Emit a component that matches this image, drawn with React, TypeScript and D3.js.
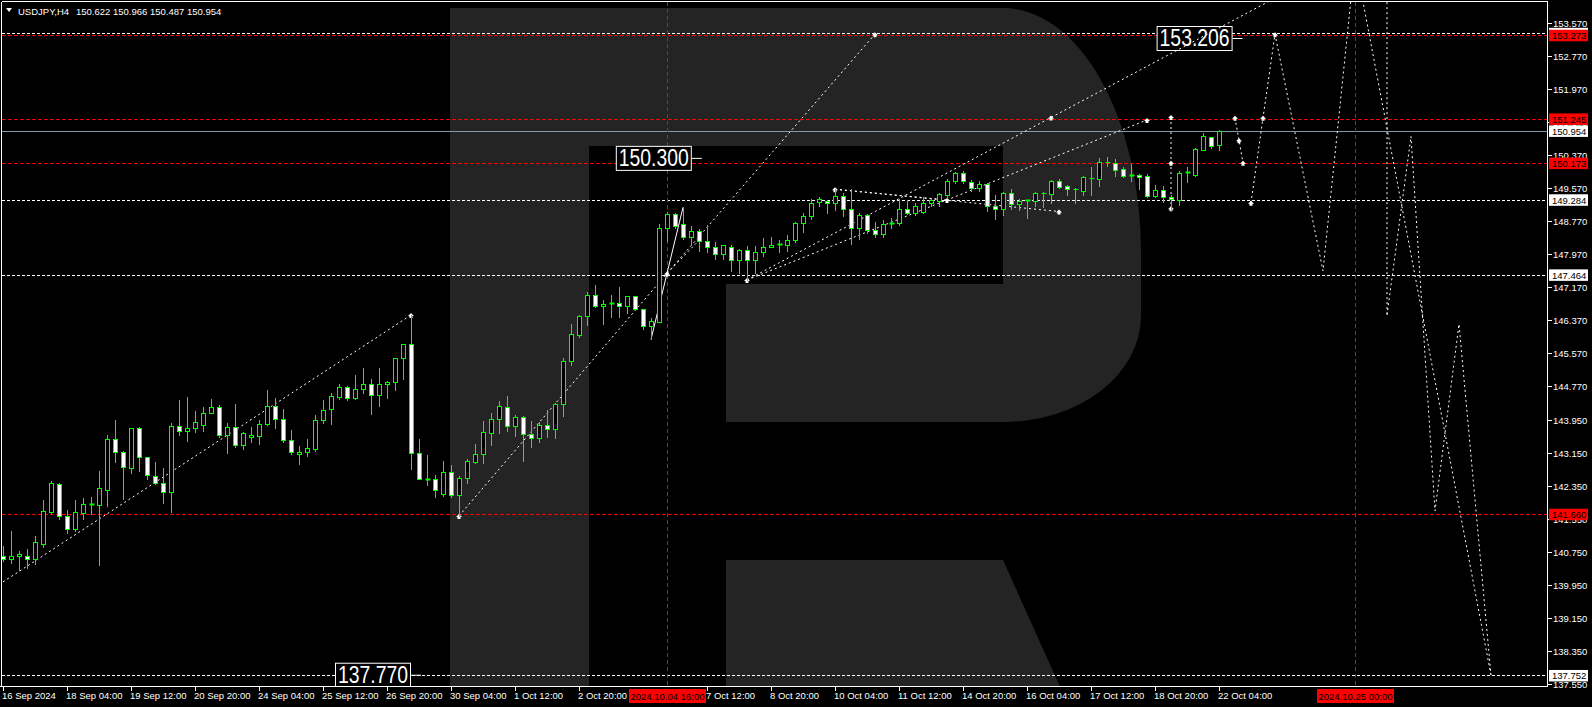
import * as d3 from 'd3'

const W = 1592
const H = 707
const PLOT_L = 2
const PLOT_T = 2
const PLOT_R = 1547
const PLOT_B = 686

// H4 bars, 16 Sep 20:00 .. 22 Oct 04:00
const opens = [
  140.65, 140.57, 140.66, 140.66, 140.57, 140.95, 141.72, 142.39, 141.63, 141.31,
  141.70, 141.92, 141.88, 142.26, 143.48, 143.16, 142.77, 143.74, 143.04, 142.58,
  142.41, 142.19, 143.79, 143.67, 143.74, 143.82, 144.12, 144.25, 143.57, 143.77,
  143.33, 143.54, 143.55, 143.84, 144.28, 143.96, 143.45, 143.13, 143.16, 143.25,
  143.94, 144.20, 144.51, 144.74, 144.49, 144.69, 144.81, 144.56, 144.83, 144.86,
  145.44, 145.78, 143.14, 142.49, 142.51, 142.16, 142.68, 142.12, 142.53, 142.93,
  143.11, 143.64, 143.96, 144.27, 143.79, 144.03, 143.61, 143.52, 143.82, 143.72,
  144.33, 145.37, 146.01, 146.46, 146.97, 146.70, 146.75, 146.77, 146.70, 146.94,
  146.63, 146.22, 146.33, 148.61, 148.94, 148.69, 148.39, 148.53, 148.29, 148.15,
  147.98, 148.15, 147.82, 148.06, 147.82, 148.03, 148.13, 148.18, 148.20, 148.32,
  148.71, 148.88, 149.22, 149.26, 149.20, 149.38, 149.05, 148.59, 148.91, 148.54,
  148.45, 148.70, 148.71, 149.05, 148.97, 148.98, 149.20, 149.26, 149.40, 149.73,
  149.93, 149.72, 149.56, 149.66, 149.14, 149.07, 149.44, 149.17, 149.26, 149.25,
  149.44, 149.43, 149.74, 149.61, 149.54, 149.50, 149.81, 149.80, 150.19, 150.18,
  150.02, 149.87, 149.89, 149.85, 149.38, 149.52, 149.36, 149.28, 149.93, 149.89,
  150.49, 150.80, 150.622
]
const highs = [
  140.89, 141.25, 140.77, 140.81, 141.13, 142.01, 142.47, 142.41, 141.76, 142.01,
  142.06, 142.09, 142.71, 143.58, 143.95, 143.19, 143.76, 143.77, 143.06, 142.93,
  142.79, 143.87, 144.43, 144.50, 144.16, 144.25, 144.45, 144.31, 143.87, 144.33,
  143.65, 143.78, 143.95, 144.67, 144.48, 144.21, 143.70, 143.31, 143.48, 144.06,
  144.43, 144.59, 144.83, 144.77, 145.04, 145.21, 144.95, 145.21, 144.90, 145.46,
  145.78, 146.49, 143.48, 143.10, 142.60, 142.95, 142.85, 142.59, 142.99, 143.36,
  143.92, 144.11, 144.41, 144.53, 144.07, 144.04, 143.92, 143.89, 144.19, 144.35,
  145.46, 146.27, 146.48, 147.05, 147.23, 146.85, 146.97, 147.16, 146.94, 146.96,
  146.63, 146.43, 148.69, 148.99, 148.97, 149.10, 148.65, 148.58, 148.68, 148.27,
  148.18, 148.18, 148.08, 148.16, 148.16, 148.36, 148.38, 148.31, 148.42, 148.74,
  148.96, 149.30, 149.36, 149.28, 149.54, 149.46, 149.54, 148.96, 148.93, 148.74,
  148.79, 148.85, 149.30, 149.28, 149.20, 149.36, 149.32, 149.46, 149.80, 149.96,
  149.97, 149.76, 149.73, 149.68, 149.40, 149.48, 149.54, 149.31, 149.28, 149.47,
  149.47, 149.76, 149.79, 149.65, 149.56, 149.86, 150.08, 150.30, 150.32, 150.27,
  150.09, 150.15, 149.92, 149.91, 149.64, 149.62, 149.40, 149.97, 150.09, 150.53,
  150.90, 150.81, 150.966
]
const lows = [
  140.53, 140.47, 140.32, 140.35, 140.45, 140.86, 141.70, 141.54, 141.21, 141.26,
  141.54, 141.67, 140.43, 141.86, 142.93, 142.03, 142.67, 142.71, 142.52, 142.39,
  141.94, 141.72, 143.57, 143.44, 143.66, 143.67, 144.12, 143.54, 143.15, 143.30,
  143.25, 143.40, 143.37, 143.83, 143.76, 143.42, 143.11, 142.89, 143.08, 143.19,
  143.88, 143.86, 144.46, 144.43, 144.45, 144.61, 144.10, 144.29, 144.49, 144.67,
  144.95, 142.76, 142.51, 142.38, 142.07, 142.10, 142.07, 141.62, 142.41, 142.91,
  142.91, 143.34, 143.64, 143.69, 143.56, 142.96, 143.30, 143.42, 143.54, 143.52,
  144.05, 145.29, 145.95, 146.26, 146.68, 146.27, 146.45, 146.45, 146.55, 146.61,
  146.14, 145.90, 146.33, 148.29, 148.61, 148.34, 148.20, 148.05, 148.01, 147.84,
  147.86, 147.56, 147.50, 147.34, 147.50, 147.91, 148.13, 148.01, 148.05, 148.25,
  148.50, 148.81, 149.13, 148.97, 149.04, 148.88, 148.21, 148.33, 148.49, 148.39,
  148.39, 148.59, 148.67, 148.93, 148.92, 148.96, 149.13, 149.13, 149.32, 149.68,
  149.68, 149.50, 149.49, 149.02, 148.82, 148.92, 149.07, 149.04, 148.85, 149.13,
  149.12, 149.20, 149.57, 149.40, 149.21, 149.40, 149.40, 149.62, 150.10, 149.86,
  149.84, 149.74, 149.55, 149.36, 149.36, 149.24, 149.04, 149.16, 149.72, 149.86,
  150.48, 150.55, 150.487
]
const closes = [
  140.57, 140.66, 140.70, 140.57, 140.98, 141.74, 142.41, 141.63, 141.31, 141.72,
  141.92, 141.88, 142.29, 143.48, 143.16, 142.80, 143.74, 143.04, 142.60, 142.41,
  142.19, 143.79, 143.67, 143.74, 143.89, 144.11, 144.25, 143.57, 143.77, 143.33,
  143.62, 143.58, 143.84, 144.28, 143.96, 143.45, 143.16, 143.16, 143.26, 143.94,
  144.18, 144.52, 144.74, 144.49, 144.69, 144.81, 144.55, 144.83, 144.87, 145.44,
  145.78, 143.14, 142.51, 142.52, 142.26, 142.68, 142.12, 142.53, 142.94, 143.11,
  143.65, 143.96, 144.28, 143.79, 144.03, 143.61, 143.52, 143.82, 143.72, 144.33,
  145.37, 146.02, 146.46, 146.97, 146.70, 146.75, 146.77, 146.70, 146.94, 146.63,
  146.22, 146.34, 148.61, 148.94, 148.65, 148.39, 148.53, 148.29, 148.15, 147.98,
  148.18, 147.82, 148.06, 147.82, 148.03, 148.13, 148.18, 148.21, 148.32, 148.71,
  148.88, 149.21, 149.30, 149.20, 149.38, 149.06, 148.59, 148.91, 148.55, 148.45,
  148.69, 148.72, 149.05, 148.97, 149.13, 149.20, 149.28, 149.42, 149.74, 149.93,
  149.73, 149.56, 149.66, 149.14, 149.07, 149.44, 149.17, 149.25, 149.28, 149.44,
  149.46, 149.74, 149.60, 149.54, 149.55, 149.83, 149.82, 150.19, 150.20, 150.01,
  149.87, 149.89, 149.84, 149.38, 149.52, 149.36, 149.30, 149.93, 149.95, 150.51,
  150.83, 150.60, 150.954
]

const symbol = 'USDJPY,H4'
const lastBar = '150.622 150.966 150.487 150.954'

const priceTicks = [
  153.57, 152.77, 151.97, 151.17, 150.37, 149.57, 148.77, 147.97, 147.17, 146.37, 145.57,
  144.77, 143.95, 143.15, 142.35, 141.55, 140.75, 139.95, 139.15, 138.35, 137.55
]

const timeTickBars = [0, 8, 16, 24, 32, 40, 48, 56, 64, 72, 88, 96, 104, 112, 120, 128, 136, 144, 152]
const timeTickLabels = [
  '16 Sep 2024', '18 Sep 04:00', '19 Sep 12:00', '20 Sep 20:00', '24 Sep 04:00', '25 Sep 12:00',
  '26 Sep 20:00', '30 Sep 04:00', '1 Oct 12:00', '2 Oct 20:00', '7 Oct 12:00', '8 Oct 20:00',
  '10 Oct 04:00', '11 Oct 12:00', '14 Oct 20:00', '16 Oct 04:00', '17 Oct 12:00', '18 Oct 20:00',
  '22 Oct 04:00'
]

const vlineBars = [83, 169]
const vlineLabels = ['2024.10.04 16:00', '2024.10.25 00:00']

// horizontal levels
const levelPrices = [153.32, 153.273, 151.245, 150.954, 150.173, 149.284, 147.464, 141.66, 137.752]
const levelKinds = ['white', 'red', 'red', 'price', 'red', 'white', 'white', 'red', 'white']
const levelTexts = ['153.320', '153.273', '151.245', '150.954', '150.173', '149.284', '147.464', '141.660', '137.752']

// forecast / trend lines: [bar, price]
const trendLines: { pts: [number, number][]; solid?: boolean; marks: number[] }[] = [
  { pts: [[0, 140.02], [51, 146.49]], marks: [1] },
  { pts: [[57, 141.62], [83, 147.5], [109, 153.3]], marks: [0, 1, 2] },
  { pts: [[81, 145.9], [85, 149.1]], solid: true, marks: [] },
  { pts: [[83, 147.5], [87, 148.3]], marks: [] },
  { pts: [[93, 147.34], [131, 151.28], [158.1, 154.08]], marks: [0, 1] },
  { pts: [[93, 147.34], [143, 151.22]], marks: [1] },
  { pts: [[104, 149.54], [118, 149.28]], marks: [0, 1] },
  { pts: [[104, 149.54], [132, 149.0]], marks: [1] },
  { pts: [[146, 151.29], [146, 150.18], [146, 149.08]], marks: [0, 1, 2] },
  { pts: [[154, 151.27], [154.5, 150.73], [155, 150.18]], marks: [0, 1, 2] },
  { pts: [[156, 149.21], [157.5, 151.27], [159, 153.3]], marks: [0, 1, 2] },
  { pts: [[159, 153.3], [165, 147.56], [169, 155.1], [186, 137.76]], marks: [] },
  { pts: [[173, 156.5], [173, 146.49]], marks: [] },
  { pts: [[173, 146.49], [176, 150.82], [179, 141.74], [182, 146.27], [186, 137.76]], marks: [] }
]

// text labels on chart: [left bar, price, text]
const bigLabels: [number, number, string][] = [
  [76.6, 150.3, '150.300'],
  [144.2, 153.206, '153.206'],
  [41.5, 137.77, '137.770']
]

const GREEN = '#00ff00'
const RED = '#ff0000'
const FONT = '"Liberation Sans", Arial, sans-serif'

export default function App() {
  const x = d3.scaleLinear().domain([0, 152]).range([3, 1219])
  const y = d3.scaleLinear().domain([137.55, 153.57]).range([683.8, 23])
  const line = d3.line<[number, number]>().x(d => x(d[0])).y(d => y(d[1]))

  const candles = opens.map((o, i) => ({ o, h: highs[i], l: lows[i], c: closes[i], i }))

  return (
    <svg width={W} height={H} style={{ position: 'absolute', left: 0, top: 0, background: '#000' }}>
      <defs>
        <clipPath id="plot">
          <rect x={PLOT_L} y={PLOT_T} width={PLOT_R - PLOT_L} height={PLOT_B - PLOT_T} />
        </clipPath>
      </defs>
      <rect width={W} height={H} fill="#000" />

      {/* watermark */}
      <g fill="#242424" clipPath="url(#plot)">
        <rect x={450} y={8} width={139} height={700} />
        <path d="M589,8 H1003 A138,244 0 0 1 1141,252 V316 A138,106 0 0 1 1003,422 H726 V284 H1003 V146 H589 Z" />
        <path d="M726,560 H1003 L1066,700 H726 Z" />
      </g>

      <g clipPath="url(#plot)">
        {levelPrices.map((p, k) => {
          const kind = levelKinds[k]
          const yy = Math.round(y(p)) + 0.5
          return (
            <line
              key={'lv' + k}
              x1={PLOT_L}
              x2={PLOT_R}
              y1={yy}
              y2={yy}
              stroke={kind === 'red' ? RED : kind === 'price' ? '#8796a8' : '#fff'}
              strokeDasharray={kind === 'price' ? undefined : kind === 'red' ? '4,2' : '3,2'}
              strokeWidth={1}
            />
          )
        })}
        {vlineBars.map(b => (
          <line key={'vl' + b} x1={x(b) + 0.5} x2={x(b) + 0.5} y1={PLOT_T} y2={PLOT_B} stroke={RED} strokeDasharray="4,3" />
        ))}

        {bigLabels.map(([b, p, t]) => {
          const bx = x(b)
          const by = y(p)
          return (
            <g key={t}>
              <rect x={bx + 0.5} y={by - 11.5} width={75} height={24} fill="#000" stroke="#fff" />
              <text x={bx + 3} y={by + 8} fill="#fff" fontFamily={FONT} fontSize={23} textLength={70} lengthAdjust="spacingAndGlyphs">{t}</text>
              <line x1={bx + 76} x2={bx + 86} y1={by + 0.5} y2={by + 0.5} stroke="#fff" />
            </g>
          )
        })}

        {trendLines.map((tl, k) => (
          <g key={'tl' + k}>
            <path d={line(tl.pts) || ''} fill="none" stroke="#fff" strokeWidth={1} strokeDasharray={tl.solid ? undefined : '2,3'} />
            {tl.marks.map(m => {
              const px = x(tl.pts[m][0])
              const py = y(tl.pts[m][1])
              return (
                <path key={m} transform={`translate(${px},${py})`} d="M-3,1 L0,-2 L3,1 L1.5,1 L1.5,3 L-1.5,3 L-1.5,1 Z" fill="#fff" />
              )
            })}
          </g>
        ))}

        {candles.map(d => {
          const cx = Math.round(x(d.i)) + 0.5
          const top = Math.round(y(Math.max(d.o, d.c)))
          const bot = Math.round(y(Math.min(d.o, d.c)))
          const bear = d.c < d.o
          return (
            <g key={'c' + d.i}>
              <line x1={cx} x2={cx} y1={Math.round(y(d.h))} y2={Math.round(y(d.l)) + 1} stroke={GREEN} />
              {bot - top < 2 ? (
                <line x1={cx - 2} x2={cx + 3} y1={top + 0.5} y2={top + 0.5} stroke={GREEN} strokeWidth={Math.max(1, bot - top + 1)} />
              ) : (
                <rect x={cx - 2} y={top + 0.5} width={4} height={bot - top} fill={bear ? '#fff' : '#000'} stroke={GREEN} />
              )}
            </g>
          )
        })}
      </g>

      {/* frame */}
      <line x1={PLOT_L} x2={PLOT_R} y1={PLOT_T - 0.5} y2={PLOT_T - 0.5} stroke="#fff" />
      <line x1={PLOT_L - 0.5} x2={PLOT_L - 0.5} y1={PLOT_T} y2={PLOT_B} stroke="#fff" />
      <line x1={PLOT_R + 0.5} x2={PLOT_R + 0.5} y1={PLOT_T - 1} y2={PLOT_B + 1} stroke="#fff" />
      <line x1={0} x2={PLOT_R + 1} y1={PLOT_B + 0.5} y2={PLOT_B + 0.5} stroke="#fff" />

      {/* header */}
      <path d="M6,8 L12,8 L9,12 Z" fill="#fff" />
      <text x={18} y={15} fill="#fff" fontFamily={FONT} fontSize={9.5}>{symbol}</text>
      <text x={76} y={15} fill="#fff" fontFamily={FONT} fontSize={9.5}>{lastBar}</text>

      {/* price axis */}
      {priceTicks.map(p => (
        <g key={'pt' + p}>
          <line x1={PLOT_R + 1} x2={PLOT_R + 5} y1={Math.round(y(p)) + 0.5} y2={Math.round(y(p)) + 0.5} stroke="#fff" />
          <text x={PLOT_R + 6} y={y(p) + 4} fill="#fff" fontFamily={FONT} fontSize={9.5}>{p.toFixed(3)}</text>
        </g>
      ))}
      {levelPrices.map((p, k) => {
        const kind = levelKinds[k]
        const yy = y(p)
        return (
          <g key={'tag' + k}>
            <rect x={PLOT_R + 2} y={yy - 5.5} width={39} height={11.5} fill={kind === 'red' ? RED : '#fff'} />
            <text x={PLOT_R + 5} y={yy + 4} fill="#000" fontFamily={FONT} fontSize={9.5}>{levelTexts[k]}</text>
          </g>
        )
      })}

      {/* time axis */}
      {timeTickBars.map((b, k) => (
        <g key={'tt' + b}>
          <line x1={x(b) + 0.5} x2={x(b) + 0.5} y1={PLOT_B + 1} y2={PLOT_B + 5} stroke="#fff" />
          <text x={x(b) - 1} y={699} fill="#fff" fontFamily={FONT} fontSize={9.5}>{timeTickLabels[k]}</text>
        </g>
      ))}
      {vlineBars.map((b, k) => (
        <g key={'vt' + b}>
          <rect x={x(b) - 38} y={689} width={77} height={14} fill={RED} />
          <text x={x(b) + 0.5} y={699.5} textAnchor="middle" fill="#000" fontFamily={FONT} fontSize={9.5}>{vlineLabels[k]}</text>
        </g>
      ))}
    </svg>
  )
}
